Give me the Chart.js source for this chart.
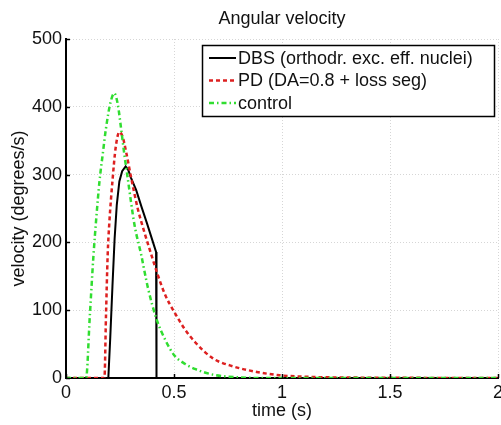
<!DOCTYPE html>
<html>
<head>
<meta charset="utf-8">
<script src="https://cdn.jsdelivr.net/npm/chart.js@4.4.1/dist/chart.umd.min.js"></script>
<style>
  html, body { margin: 0; padding: 0; background: #fff; }
  #wrap { width: 501px; height: 425px; position: relative; }
</style>
</head>
<body>
<div id="wrap"><canvas id="c" width="501" height="425"></canvas></div>
<script>
// ---- data ----
const chartTitle = 'Angular velocity';
const xTitle = 'time (s)';
const yTitle = 'velocity (degrees/s)';
const seriesLabels = ['DBS (orthodr. exc. eff. nuclei)', 'PD (DA=0.8 + loss seg)', 'control'];

const dbsTime = [0, 0.196, 0.205, 0.215, 0.225, 0.235, 0.247, 0.26, 0.276, 0.288, 0.3, 0.325, 0.35, 0.375, 0.4, 0.417, 0.419, 2];
const dbsVel  = [0, 0, 60, 135, 205, 255, 290, 305, 312, 307, 296, 277, 252, 228, 203, 186, 0, 0];

const pdTime = [0, 0.178, 0.185, 0.193, 0.2, 0.216, 0.23, 0.247, 0.262, 0.278, 0.3, 0.332, 0.36, 0.385, 0.425, 0.46, 0.5, 0.55, 0.6, 0.68, 0.775, 0.883, 0.99, 1.1, 1.2, 2];
const pdVel  = [0, 0, 90, 182, 226, 294, 340, 363, 356, 334, 298, 250, 218, 192, 152, 122, 98, 72, 52, 29, 17, 9, 4, 2, 1, 0];

const ctrlTime = [0, 0.093, 0.11, 0.127, 0.14, 0.155, 0.17, 0.185, 0.205, 0.224, 0.24, 0.255, 0.27, 0.286, 0.317, 0.348, 0.38, 0.42, 0.46, 0.5, 0.55, 0.6, 0.68, 0.8, 0.9, 2];
const ctrlVel  = [0, 0, 90, 180, 235, 290, 330, 368, 405, 420, 403, 368, 330, 294, 226, 182, 132, 86, 56, 34, 21, 13, 5, 1, 0, 0];

const xTickLabels = ['0', '0.5', '1', '1.5', '2'];
const yTickLabels = ['0', '100', '200', '300', '400', '500'];

// ---- styles ----
const FONT = "'Liberation Sans', Arial, sans-serif";
const colors = ['#000000', '#dd2020', '#30dd30'];
const dashes = [[], [4, 3], [5, 3, 1.5, 3]];
const widths = [2, 2.5, 2.5];
const interp = ['default', 'monotone', 'monotone'];

function pts(t, v) { return t.map((x, i) => ({ x: x, y: v[i] })); }

const plugin = {
  id: 'matlabish',
  afterDraw(chart) {
    const ctx = chart.ctx;
    const a = chart.chartArea;
    const xs = chart.scales.x, ys = chart.scales.y;
    ctx.save();
    // inward tick marks
    ctx.strokeStyle = '#000';
    ctx.lineWidth = 1.5;
    ys.ticks.forEach(t => {
      const y = Math.round(ys.getPixelForValue(t.value)) + 0.5;
      ctx.beginPath(); ctx.moveTo(a.left, y); ctx.lineTo(a.left + 4, y); ctx.stroke();
    });
    xs.ticks.forEach(t => {
      const x = Math.round(xs.getPixelForValue(t.value)) + 0.5;
      ctx.beginPath(); ctx.moveTo(x, a.bottom); ctx.lineTo(x, a.bottom - 4); ctx.stroke();
    });
    // title
    ctx.fillStyle = '#111';
    ctx.font = '18px ' + FONT;
    ctx.textAlign = 'center';
    ctx.textBaseline = 'alphabetic';
    ctx.fillText(chartTitle, (a.left + a.right) / 2, 24);
    // legend
    const bx = 202.5, by = 45.5, bw = 292, bh = 71;
    ctx.fillStyle = '#fff';
    ctx.fillRect(bx, by, bw, bh);
    ctx.strokeStyle = '#000';
    ctx.lineWidth = 1.5;
    ctx.strokeRect(bx, by, bw, bh);
    ctx.font = '18px ' + FONT;
    ctx.textAlign = 'left';
    ctx.textBaseline = 'middle';
    const rows = [58, 80.5, 103];
    chart.data.datasets.forEach((ds, i) => {
      const y = rows[i];
      ctx.strokeStyle = ds.borderColor;
      ctx.lineWidth = ds.borderWidth;
      ctx.setLineDash(ds.borderDash || []);
      ctx.beginPath(); ctx.moveTo(209, y); ctx.lineTo(236, y); ctx.stroke();
      ctx.setLineDash([]);
      ctx.fillStyle = '#111';
      ctx.fillText(ds.label, 238, y + 1);
    });
    ctx.restore();
  }
};

const datasets = [
  { label: seriesLabels[0], data: pts(dbsTime, dbsVel), order: 3 },
  { label: seriesLabels[1], data: pts(pdTime, pdVel), order: 2 },
  { label: seriesLabels[2], data: pts(ctrlTime, ctrlVel), order: 1 }
].map((d, i) => Object.assign(d, {
  borderColor: colors[i],
  borderWidth: widths[i],
  borderDash: dashes[i],
  pointRadius: 0,
  fill: false,
  tension: 0,
  cubicInterpolationMode: interp[i],
  borderCapStyle: 'butt'
}));

new Chart(document.getElementById('c'), {
  type: 'line',
  data: { datasets: datasets },
  plugins: [plugin],
  options: {
    responsive: false,
    animation: false,
    events: [],
    layout: { padding: { top: 39, right: 3, left: 0, bottom: 0 } },
    plugins: { legend: { display: false }, tooltip: { enabled: false }, title: { display: false } },
    scales: {
      x: {
        type: 'linear', min: 0, max: 2,
        ticks: {
          stepSize: 0.5, padding: 4, color: '#111', maxRotation: 0, autoSkip: false,
          font: { family: FONT, size: 18 },
          callback: (v, i) => xTickLabels[i]
        },
        grid: { color: 'rgba(0,0,0,0.16)', drawTicks: false, lineWidth: 1 },
        border: { display: true, color: '#000', width: 2, dash: [1, 2] },
        title: { display: true, text: xTitle, color: '#111', font: { family: FONT, size: 18 }, padding: { top: 0, bottom: 3 } },
        afterFit: s => { s.height = 47; s.paddingLeft = 0; s.paddingRight = 0; }
      },
      y: {
        min: 0, max: 500,
        ticks: {
          stepSize: 100, padding: 4, color: '#111',
          font: { family: FONT, size: 18 },
          callback: (v, i) => yTickLabels[i]
        },
        grid: { color: 'rgba(0,0,0,0.16)', drawTicks: false, lineWidth: 1 },
        border: { display: true, color: '#000', width: 2, dash: [1, 2] },
        title: { display: true, text: yTitle, color: '#111', font: { family: FONT, size: 18 }, padding: { top: 8, bottom: 0 } },
        afterFit: s => { s.width = 66; s.paddingTop = 0; s.paddingBottom = 0; }
      }
    }
  }
});
</script>
</body>
</html>
